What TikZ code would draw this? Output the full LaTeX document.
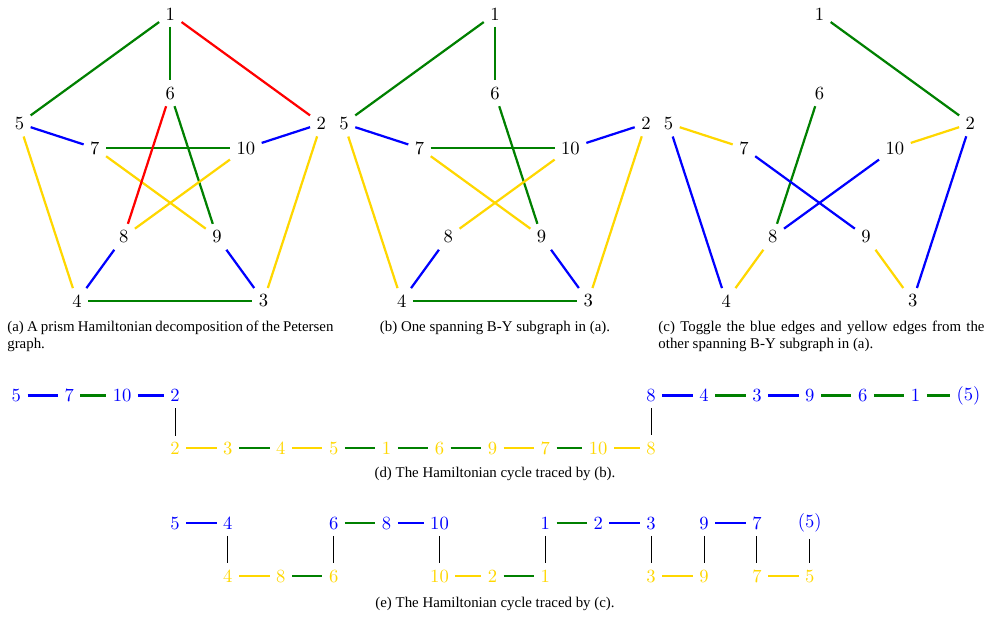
\documentclass[tikz,border=0pt]{standalone}
\usepackage{fontspec}
\usepackage{xcolor}
\usepackage{tikz}
\newfontfamily\capfont{Liberation Serif}
\definecolor{pgreen}{RGB}{0,128,0}
\definecolor{pgold}{RGB}{255,215,0}
\tikzstyle{eblue} = [blue, very thick]
\tikzstyle{egreen} = [pgreen, very thick]
\tikzstyle{egold} = [pgold, very thick]
\tikzstyle{ered} = [red, very thick]
\tikzstyle{link} = [black, line width=0.5pt]
\tikzstyle{upnum} = [text=blue]
\tikzstyle{lonum} = [text=pgold]
\tikzstyle{captext} = [font=\capfont\fontsize{8}{9}\selectfont, inner sep=0pt]

\begin{document}
\begin{tikzpicture}
    \useasboundingbox (0,0) rectangle (18.62,11.645);
    % (a) the decomposition
    \begin{scope}[shift={(3.22,8.382)}]
        \foreach \n/\a in {1/90,2/18,3/-54,4/-126,5/162}
            \node (a\n) at (\a:3) {\n};
        \foreach \n/\a in {6/90,10/18,9/-54,8/-126,7/162}
            \node (a\n) at (\a:1.5) {\n};
    \end{scope}
    \foreach \u/\v in {1/5,1/6,7/10,6/9,4/3} \draw[egreen] (a\u) -- (a\v);
    \foreach \u/\v in {5/7,2/10,8/4,9/3} \draw[eblue] (a\u) -- (a\v);
    \foreach \u/\v in {7/9,10/8,5/4,2/3} \draw[egold] (a\u) -- (a\v);
    \foreach \u/\v in {1/2,6/8} \draw[ered] (a\u) -- (a\v);
    \node[captext, text width=175.4pt, align=justify, anchor=west] (capa) at (0.132,5.284)
        {(a) A prism Hamiltonian decomposition of the Petersen\linebreak graph.};

    % (b) one spanning B-Y subgraph
    \begin{scope}[shift={(9.357,8.382)}]
        \foreach \n/\a in {1/90,2/18,3/-54,4/-126,5/162}
            \node (b\n) at (\a:3) {\n};
        \foreach \n/\a in {6/90,10/18,9/-54,8/-126,7/162}
            \node (b\n) at (\a:1.5) {\n};
    \end{scope}
    \foreach \u/\v in {1/5,1/6,7/10,6/9,4/3} \draw[egreen] (b\u) -- (b\v);
    \foreach \u/\v in {5/7,2/10,8/4,9/3} \draw[eblue] (b\u) -- (b\v);
    \foreach \u/\v in {7/9,10/8,5/4,2/3} \draw[egold] (b\u) -- (b\v);
    \node[captext] (capb) at (9.357,5.444) {(b) One spanning B-Y subgraph in (a).};

    % (c) toggled subgraph
    \begin{scope}[shift={(15.49,8.382)}]
        \foreach \n/\a in {1/90,2/18,3/-54,4/-126,5/162}
            \node (c\n) at (\a:3) {\n};
        \foreach \n/\a in {6/90,10/18,9/-54,8/-126,7/162}
            \node (c\n) at (\a:1.5) {\n};
    \end{scope}
    \foreach \u/\v in {1/2,6/8} \draw[egreen] (c\u) -- (c\v);
    \foreach \u/\v in {7/9,10/8,5/4,2/3} \draw[eblue] (c\u) -- (c\v);
    \foreach \u/\v in {5/7,2/10,8/4,9/3} \draw[egold] (c\u) -- (c\v);
    \node[captext, text width=175.4pt, align=justify, anchor=west] (capc) at (12.44,5.284)
        {(c) Toggle the blue edges and yellow edges from the\linebreak other spanning B-Y subgraph in (a).};

    % (d) cycle traced by (b)
    \foreach \c/\t in {0/5,1/7,2/10,3/2,12/8,13/4,14/3,15/9,16/6,17/1,18/{(5)}}
        \node[upnum] (du\c) at (0.308+\c,4.17) {\t};
    \foreach \c/\t in {3/2,4/3,5/4,6/5,7/1,8/6,9/9,10/7,11/10,12/8}
        \node[lonum] (dl\c) at (0.308+\c,3.17) {\t};
    \foreach \u/\v in {0/1,2/3,12/13,14/15} \draw[eblue] (du\u) -- (du\v);
    \foreach \u/\v in {1/2,13/14,15/16,16/17,17/18} \draw[egreen] (du\u) -- (du\v);
    \foreach \u/\v in {4/5,6/7,7/8,8/9,10/11} \draw[egreen] (dl\u) -- (dl\v);
    \foreach \u/\v in {3/4,5/6,9/10,11/12} \draw[egold] (dl\u) -- (dl\v);
    \foreach \c in {3,12} \draw[link] (du\c) -- (dl\c);
    \node[captext] (capd) at (9.357,2.684) {(d) The Hamiltonian cycle traced by (b).};

    % (e) cycle traced by (c)
    \foreach \c/\t in {3/5,4/4,6/6,7/8,8/10,10/1,11/2,12/3,13/9,14/7,15/{(5)}}
        \node[upnum] (eu\c) at (0.308+\c,1.758) {\t};
    \foreach \c/\t in {4/4,5/8,6/6,8/10,9/2,10/1,12/3,13/9,14/7,15/5}
        \node[lonum] (el\c) at (0.308+\c,0.756) {\t};
    \foreach \u/\v in {3/4,7/8,11/12,13/14} \draw[eblue] (eu\u) -- (eu\v);
    \foreach \u/\v in {6/7,10/11} \draw[egreen] (eu\u) -- (eu\v);
    \foreach \u/\v in {5/6,9/10} \draw[egreen] (el\u) -- (el\v);
    \foreach \u/\v in {4/5,8/9,12/13,14/15} \draw[egold] (el\u) -- (el\v);
    \foreach \c in {4,6,8,10,12,13,14,15} \draw[link] (eu\c) -- (el\c);
    \node[captext] (cape) at (9.357,0.227) {(e) The Hamiltonian cycle traced by (c).};
\end{tikzpicture}
\end{document}
